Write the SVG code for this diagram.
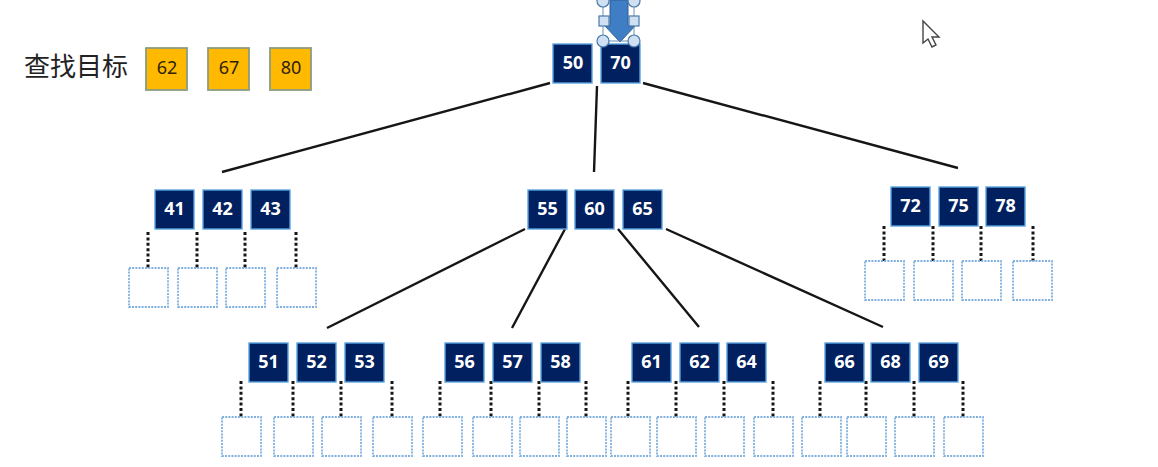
<svg xmlns="http://www.w3.org/2000/svg" width="1158" height="467" viewBox="0 0 1158 467">
<defs>
<style>
text{font-family:"Noto Sans","Open Sans","Liberation Sans",sans-serif;text-anchor:middle}
.n rect{fill:#002060;stroke:#5ba3e0;stroke-width:1.4}
.n text{fill:#fff;font-size:18px;font-weight:700}
.t rect{fill:#ffb900;stroke:#8c9c80;stroke-width:1.8}
.t text{fill:#2e2205;font-size:18px}
.l{fill:#fff;stroke:#7fb0e0;stroke-width:1.8;stroke-dasharray:2 1.2}
.e{stroke:#161616;stroke-width:2.4;fill:none}
.d{stroke:#161616;stroke-width:3;stroke-dasharray:3 2.4;fill:none}
.h{fill:#cfe0f2;stroke:#4a78a8;stroke-width:1.2}
</style>
</defs>
<rect width="1158" height="467" fill="#fff"/>
<text x="76" y="76" font-size="26" fill="#222" style="font-family:'Noto Sans CJK SC',sans-serif">查找目标</text>
<g id="target-62" class="t"><rect x="146" y="48" width="41" height="42"/><text x="167" y="74">62</text></g>
<g id="target-67" class="t"><rect x="208" y="48" width="41" height="42"/><text x="229" y="74">67</text></g>
<g id="target-80" class="t"><rect x="270" y="48" width="41" height="42"/><text x="291" y="74">80</text></g>
<g id="connectors">
<path class="e" d="M550 83L222 172M597 86L594 172M643 83L958 168M525 229L327 328M565 229L512 328M618 229L699 327M666 229L883 327"/>
<path class="d" d="M148 232V268M197 232V268M245 232V268M296 232V268M884 226V261M933 226V261M981 226V261M1033 226V261M241 381V417M293 381V417M341 381V417M392 381V417M440 381V417M491 381V417M539 381V417M586 381V417M628 381V417M676 381V417M724 381V417M773 381V417M820 381V417M866 381V417M914 381V417M963 381V417"/>
</g>
<g id="n50" class="n"><rect x="553" y="44" width="39" height="39"/><text x="573" y="69">50</text></g>
<g id="n70" class="n"><rect x="601" y="44" width="39" height="39"/><text x="620.500" y="69">70</text></g>
<g id="n41" class="n"><rect x="155" y="190" width="39" height="39"/><text x="174.500" y="215">41</text></g>
<g id="n42" class="n"><rect x="203" y="190" width="39" height="39"/><text x="222.500" y="215">42</text></g>
<g id="n43" class="n"><rect x="251" y="190" width="39" height="39"/><text x="270.500" y="215">43</text></g>
<g id="n55" class="n"><rect x="528" y="190" width="39" height="39"/><text x="547.500" y="215">55</text></g>
<g id="n60" class="n"><rect x="575" y="190" width="39" height="39"/><text x="594.500" y="215">60</text></g>
<g id="n65" class="n"><rect x="623" y="190" width="39" height="39"/><text x="642.500" y="215">65</text></g>
<g id="n72" class="n"><rect x="891" y="187" width="39" height="39"/><text x="910.500" y="212">72</text></g>
<g id="n75" class="n"><rect x="939" y="187" width="39" height="39"/><text x="958.500" y="212">75</text></g>
<g id="n78" class="n"><rect x="986" y="187" width="39" height="39"/><text x="1005.500" y="212">78</text></g>
<g id="n51" class="n"><rect x="249" y="343" width="39" height="39"/><text x="268.500" y="368">51</text></g>
<g id="n52" class="n"><rect x="297" y="343" width="39" height="39"/><text x="316.500" y="368">52</text></g>
<g id="n53" class="n"><rect x="345" y="343" width="39" height="39"/><text x="364.500" y="368">53</text></g>
<g id="n56" class="n"><rect x="445" y="343" width="39" height="39"/><text x="464.500" y="368">56</text></g>
<g id="n57" class="n"><rect x="493" y="343" width="39" height="39"/><text x="512.500" y="368">57</text></g>
<g id="n58" class="n"><rect x="541" y="343" width="39" height="39"/><text x="560.500" y="368">58</text></g>
<g id="n61" class="n"><rect x="632" y="343" width="39" height="39"/><text x="651.500" y="368">61</text></g>
<g id="n62" class="n"><rect x="680" y="343" width="39" height="39"/><text x="699.500" y="368">62</text></g>
<g id="n64" class="n"><rect x="727" y="343" width="39" height="39"/><text x="746.500" y="368">64</text></g>
<g id="n66" class="n"><rect x="825" y="343" width="39" height="39"/><text x="844.500" y="368">66</text></g>
<g id="n68" class="n"><rect x="871" y="343" width="39" height="39"/><text x="890.500" y="368">68</text></g>
<g id="n69" class="n"><rect x="919" y="343" width="39" height="39"/><text x="938.500" y="368">69</text></g>
<g id="leaves-left">
<rect class="l" x="129" y="268" width="39" height="39"/><rect class="l" x="178" y="268" width="39" height="39"/><rect class="l" x="226" y="268" width="39" height="39"/><rect class="l" x="277" y="268" width="39" height="39"/>
</g>
<g id="leaves-right">
<rect class="l" x="865" y="261" width="39" height="39"/><rect class="l" x="914" y="261" width="39" height="39"/><rect class="l" x="962" y="261" width="39" height="39"/><rect class="l" x="1013" y="261" width="39" height="39"/>
</g>
<g id="leaves-bottom">
<rect class="l" x="222" y="417" width="39" height="39"/><rect class="l" x="274" y="417" width="39" height="39"/><rect class="l" x="322" y="417" width="39" height="39"/><rect class="l" x="373" y="417" width="39" height="39"/>
<rect class="l" x="423" y="417" width="39" height="39"/><rect class="l" x="473" y="417" width="39" height="39"/><rect class="l" x="520" y="417" width="39" height="39"/><rect class="l" x="567" y="417" width="39" height="39"/>
<rect class="l" x="611" y="417" width="39" height="39"/><rect class="l" x="657" y="417" width="39" height="39"/><rect class="l" x="705" y="417" width="39" height="39"/><rect class="l" x="754" y="417" width="39" height="39"/>
<rect class="l" x="802" y="417" width="39" height="39"/><rect class="l" x="847" y="417" width="39" height="39"/><rect class="l" x="895" y="417" width="39" height="39"/><rect class="l" x="944" y="417" width="39" height="39"/>
</g>
<g id="pointer">
<path d="M610 0H628V26H635L620 42L605 26H610Z" fill="#3f7ec4" stroke="#2f5f94" stroke-width="1"/>
<path d="M603 2V40M634 2V40M603 41H634" fill="none" stroke="#6f8fb0" stroke-width="1"/>
<circle class="h" cx="603" cy="1" r="6"/><circle class="h" cx="634" cy="1" r="6"/>
<circle class="h" cx="603" cy="41" r="6"/><circle class="h" cx="634" cy="41" r="6"/>
<rect class="h" x="599" y="16" width="10" height="10"/><rect class="h" x="629" y="16" width="10" height="10"/>
</g>
<path id="cursor" d="M923 21V43L928 39L932 47L936 45L932 37L939 37Z" fill="#fff" stroke="#444" stroke-width="1.4"/>
</svg>
